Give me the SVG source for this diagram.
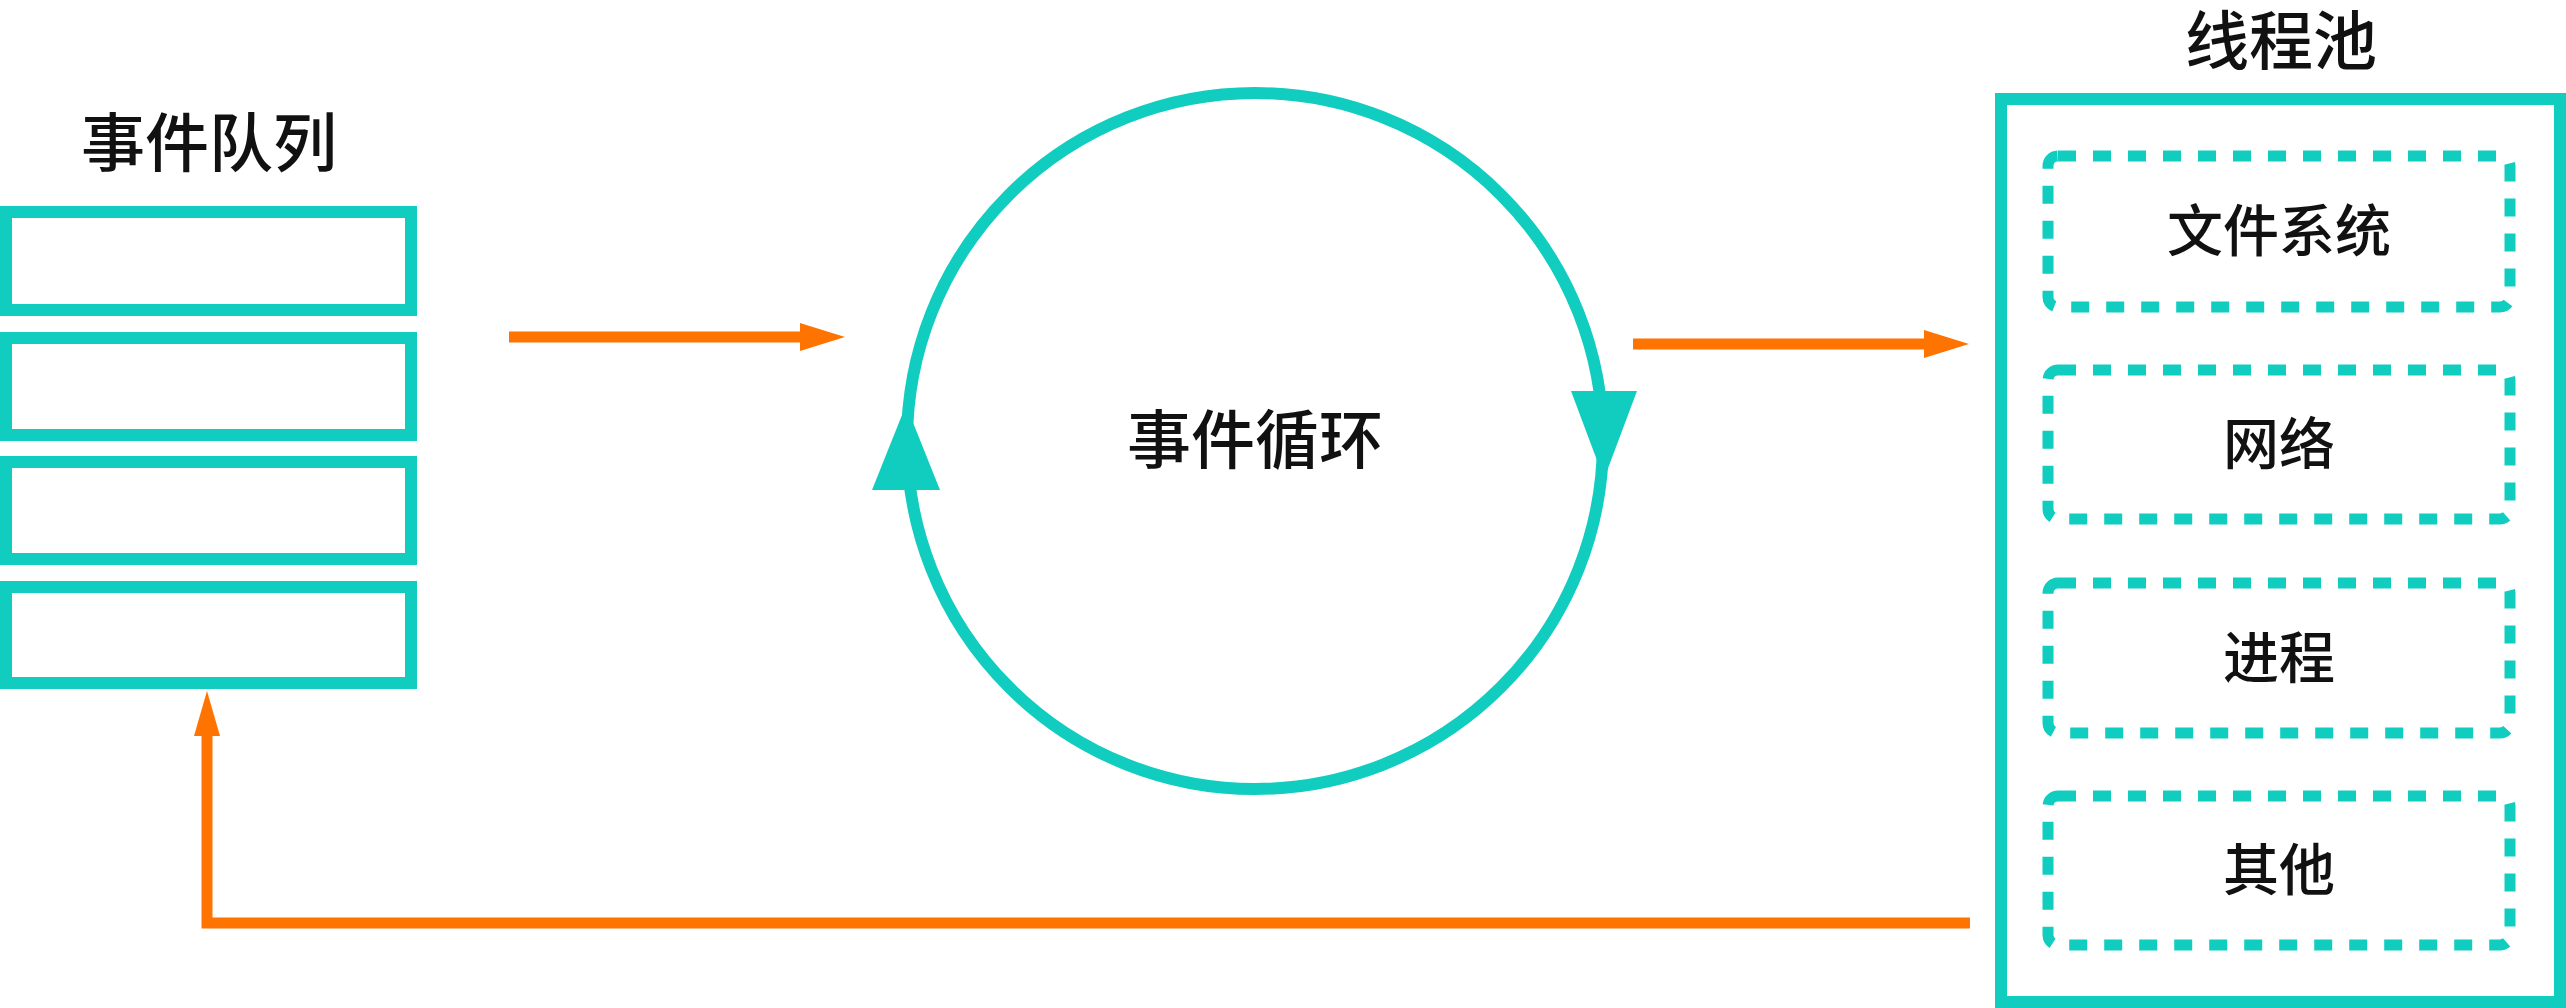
<svg xmlns="http://www.w3.org/2000/svg" width="2566" height="1008" viewBox="0 0 2566 1008">
<style>
.t{stroke:#10CDC0;stroke-width:12;fill:none}
.d{stroke:#10CDC0;stroke-width:11;fill:none;stroke-dasharray:18 17}
.o{stroke:#FF7300;stroke-width:11;fill:none}
text{font-family:"Noto Sans CJK SC","Liberation Sans",sans-serif;fill:#111;text-anchor:middle}
.h{font-size:64px;font-weight:500}
.l{font-size:56px;font-weight:500}
</style>
<rect width="2566" height="1008" fill="#fff"/>
<g id="queue">
<text class="h" x="209" y="166">事件队列</text>
<rect class="t" x="6" y="212" width="405" height="98"/>
<rect class="t" x="6" y="338" width="405" height="97"/>
<rect class="t" x="6" y="462" width="405" height="97"/>
<rect class="t" x="6" y="587" width="405" height="96"/>
</g>
<g id="loop">
<circle class="t" cx="1255" cy="441" r="348"/>
<polygon points="906,405 872,490 940,490" fill="#10CDC0"/>
<polygon points="1571,391 1637,391 1604,479" fill="#10CDC0"/>
<text class="h" x="1255" y="463">事件循环</text>
</g>
<g id="pool">
<text class="h" x="2281" y="64">线程池</text>
<rect class="t" x="2001" y="99" width="559" height="903"/>
<rect class="d" x="2048" y="156" width="462" height="151" rx="10"/>
<text class="l" x="2279" y="251">文件系统</text>
<rect class="d" x="2048" y="370" width="462" height="149" rx="10"/>
<text class="l" x="2279" y="464">网络</text>
<rect class="d" x="2048" y="583" width="462" height="150" rx="10"/>
<text class="l" x="2279" y="678">进程</text>
<rect class="d" x="2048" y="796" width="462" height="149" rx="10"/>
<text class="l" x="2279" y="890">其他</text>
</g>
<g id="connectors">
<line class="o" x1="509" y1="337" x2="805" y2="337"/>
<polygon points="845,337 800,323 800,351" fill="#FF7300"/>
<line class="o" x1="1633" y1="344" x2="1930" y2="344"/>
<polygon points="1969,344 1924,330 1924,358" fill="#FF7300"/>
<polyline class="o" points="1970,923 207,923 207,730"/>
<polygon points="207,691 194,736 220,736" fill="#FF7300"/>
</g>
</svg>
